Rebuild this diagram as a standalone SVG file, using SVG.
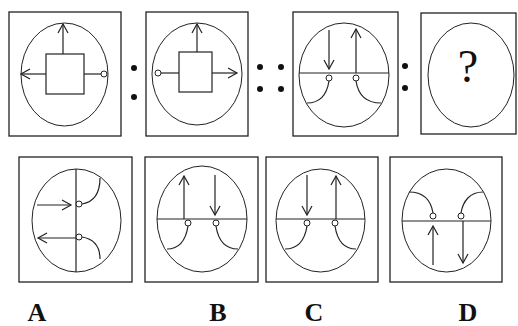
<svg xmlns="http://www.w3.org/2000/svg" width="518" height="326" viewBox="0 0 518 326">
<style>
.box{fill:none;stroke:#222;stroke-width:1.3}
.ell{fill:none;stroke:#222;stroke-width:1}
.ln{fill:none;stroke:#222;stroke-width:1.2}
.ah{fill:none;stroke:#222;stroke-width:1.2;stroke-linejoin:miter}
.oc{fill:#fff;stroke:#222;stroke-width:1}
.dot{fill:#111}
.lab{font-family:"Liberation Serif",serif;font-weight:bold;font-size:26px;fill:#111;text-anchor:middle}
.q{font-family:"Liberation Serif",serif;font-size:46px;fill:#111;text-anchor:middle}
</style>
<rect width="518" height="326" fill="#fff"/>

<g id="fig1">
<rect class="box" x="9" y="12" width="112" height="124"/>
<ellipse class="ell" cx="64.5" cy="74.5" rx="43.5" ry="51.5"/>
<rect class="ln" x="46" y="54" width="38" height="40"/>
<line class="ln" x1="63" y1="54" x2="63" y2="24"/>
<polyline class="ah" points="58,33 63,24 68,33"/>
<line class="ln" x1="46" y1="74" x2="21" y2="74"/>
<polyline class="ah" points="30,69 21,74 30,79"/>
<line class="ln" x1="84" y1="74" x2="101" y2="74"/>
<circle class="oc" cx="104" cy="74" r="3"/>
</g>

<g id="colon1">
<circle class="dot" cx="134" cy="68" r="3"/>
<circle class="dot" cx="134" cy="97" r="3"/>
</g>

<g id="fig2">
<rect class="box" x="146" y="12" width="102" height="124"/>
<ellipse class="ell" cx="197" cy="74" rx="45" ry="51"/>
<rect class="ln" x="179" y="52" width="33" height="40"/>
<line class="ln" x1="197" y1="52" x2="197" y2="24"/>
<polyline class="ah" points="192,33 197,24 202,33"/>
<line class="ln" x1="212" y1="73" x2="237" y2="73"/>
<polyline class="ah" points="228,68 237,73 228,78"/>
<line class="ln" x1="179" y1="73" x2="161" y2="73"/>
<circle class="oc" cx="158" cy="73" r="3"/>
</g>

<g id="dcolon">
<circle class="dot" cx="260" cy="67" r="3"/>
<circle class="dot" cx="281" cy="67" r="3"/>
<circle class="dot" cx="260" cy="89" r="3"/>
<circle class="dot" cx="281" cy="89" r="3"/>
</g>

<g id="fig3">
<rect class="box" x="293" y="12" width="105" height="124"/>
<ellipse class="ell" cx="344" cy="75" rx="45" ry="52"/>
<line class="ln" x1="299" y1="73" x2="389" y2="73"/>
<line class="ln" x1="329" y1="30" x2="329" y2="69"/>
<polyline class="ah" points="324,60 329,69 334,60"/>
<line class="ln" x1="356" y1="73" x2="356" y2="29"/>
<polyline class="ah" points="351,38 356,29 361,38"/>
<path class="ln" d="M329,81 C327,94 320,103 307,103"/>
<path class="ln" d="M356,81 C358,94 365,103 381,103"/>
<circle class="oc" cx="329" cy="78" r="3"/>
<circle class="oc" cx="356" cy="78" r="3"/>
</g>

<g id="colon2">
<circle class="dot" cx="405" cy="66" r="3"/>
<circle class="dot" cx="405" cy="88" r="3"/>
</g>

<g id="fig4">
<rect class="box" x="421" y="13" width="95" height="121"/>
<ellipse class="ell" cx="471" cy="75" rx="43" ry="52"/>
<text class="q" x="468" y="82">?</text>
</g>

<g id="optA">
<rect class="box" x="19" y="157" width="113" height="125"/>
<ellipse class="ell" cx="76.5" cy="220.5" rx="44.5" ry="51.5"/>
<line class="ln" x1="76" y1="169" x2="76" y2="272"/>
<line class="ln" x1="37" y1="205" x2="71" y2="205"/>
<polyline class="ah" points="62,200 71,205 62,210"/>
<line class="ln" x1="76" y1="238" x2="38" y2="238"/>
<polyline class="ah" points="47,233 38,238 47,243"/>
<path class="ln" d="M82,204 C94,202 100,194 100,178"/>
<path class="ln" d="M82,237 C94,239 100,247 100,259"/>
<circle class="oc" cx="79" cy="204" r="3"/>
<circle class="oc" cx="79" cy="237" r="3"/>
</g>

<g id="optB">
<rect class="box" x="145" y="157" width="113" height="125"/>
<ellipse class="ell" cx="202" cy="219" rx="45" ry="53"/>
<line class="ln" x1="157" y1="219" x2="247" y2="219"/>
<line class="ln" x1="184" y1="219" x2="184" y2="176"/>
<polyline class="ah" points="179,185 184,176 189,185"/>
<line class="ln" x1="215" y1="175" x2="215" y2="215"/>
<polyline class="ah" points="210,206 215,215 220,206"/>
<path class="ln" d="M188,226 C186,239 180,249 167,249"/>
<path class="ln" d="M216,226 C218,239 224,249 238,249"/>
<circle class="oc" cx="188" cy="223" r="3"/>
<circle class="oc" cx="216" cy="223" r="3"/>
</g>

<g id="optC">
<rect class="box" x="266" y="157" width="112" height="125"/>
<ellipse class="ell" cx="320.5" cy="220.5" rx="44.5" ry="51.5"/>
<line class="ln" x1="276" y1="219" x2="365" y2="219"/>
<line class="ln" x1="307" y1="175" x2="307" y2="215"/>
<polyline class="ah" points="302,206 307,215 312,206"/>
<line class="ln" x1="336" y1="219" x2="336" y2="176"/>
<polyline class="ah" points="331,185 336,176 341,185"/>
<path class="ln" d="M307,226 C305,239 299,249 285,249"/>
<path class="ln" d="M335,226 C337,239 343,249 356,249"/>
<circle class="oc" cx="307" cy="223" r="3"/>
<circle class="oc" cx="335" cy="223" r="3"/>
</g>

<g id="optD">
<rect class="box" x="390" y="157" width="112" height="125"/>
<ellipse class="ell" cx="446.5" cy="220.5" rx="44.5" ry="51.5"/>
<line class="ln" x1="402" y1="221" x2="491" y2="221"/>
<line class="ln" x1="433" y1="265" x2="433" y2="226"/>
<polyline class="ah" points="428,235 433,226 438,235"/>
<line class="ln" x1="463" y1="221" x2="463" y2="263"/>
<polyline class="ah" points="458,254 463,263 468,254"/>
<path class="ln" d="M433,213 C431,201 424,192 409,192"/>
<path class="ln" d="M461,213 C463,201 470,192 483,192"/>
<circle class="oc" cx="433" cy="216" r="3"/>
<circle class="oc" cx="461" cy="216" r="3"/>
</g>

<g id="labels">
<text class="lab" x="37" y="321">A</text>
<text class="lab" x="218" y="321">B</text>
<text class="lab" x="314" y="321">C</text>
<text class="lab" x="468" y="321">D</text>
</g>
</svg>
